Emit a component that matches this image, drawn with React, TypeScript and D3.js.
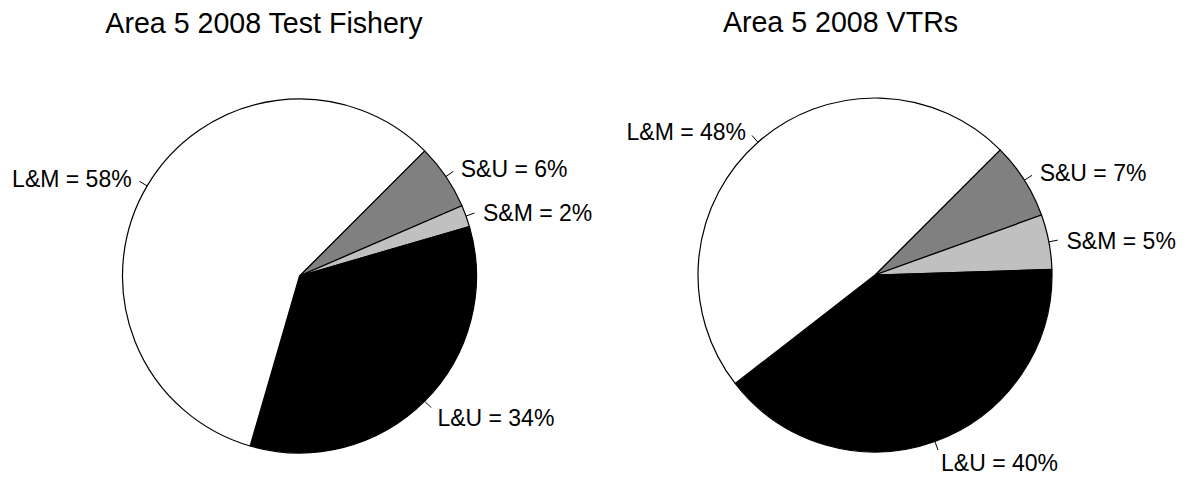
import React from "react";
import * as d3 from "d3";

const categories = ["S&U", "S&M", "L&U", "L&M"];
const testFisheryValues = [6, 2, 34, 58];
const vtrValues = [7, 5, 40, 48];
const titles = ["Area 5 2008 Test Fishery", "Area 5 2008 VTRs"];
const sliceColors = ["#808080", "#c0c0c0", "#000000", "#ffffff"];

const W = 1186;
const H = 478;
const R = 177;
const FONT = "'Liberation Sans', Arial, Helvetica, sans-serif";

type PieProps = { values: number[]; cx: number; cy: number; title: string; titleX: number; titleY: number };

function Pie({ values, cx, cy, title, titleX, titleY }: PieProps) {
  const pie = d3
    .pie<number>()
    .sort(null)
    .value((d) => d)
    .startAngle(Math.PI / 4)
    .endAngle(Math.PI / 4 + 2 * Math.PI);
  const arcs = pie(values);
  const arc = d3.arc<d3.PieArcDatum<number>>().innerRadius(0).outerRadius(R);
  return (
    <g>
      <text x={titleX} y={titleY} textAnchor="middle" fontFamily={FONT} fontSize={28.6} fill="#000">
        {title}
      </text>
      <g transform={`translate(${cx},${cy})`}>
        {arcs.map((a, i) => (
          <path key={i} d={arc(a) || ""} fill={sliceColors[i]} stroke="#000" strokeWidth={1.2} strokeLinejoin="round" />
        ))}
        {arcs.map((a, i) => {
          const mid = (a.startAngle + a.endAngle) / 2;
          const s = Math.sin(mid);
          const c = Math.cos(mid);
          const x1 = R * s;
          const y1 = -R * c;
          const x2 = (R + 9) * s;
          const y2 = -(R + 9) * c;
          const tx = x2 + 9 * s;
          const centerY = y2 + 2 - (c > 0 ? 8 : 11) * c;
          const baseline = centerY + 8.2;
          return (
            <g key={"l" + i}>
              <line x1={x1} y1={y1} x2={x2} y2={y2} stroke="#000" strokeWidth={1} />
              <text
                x={tx}
                y={baseline}
                textAnchor={s >= 0 ? "start" : "end"}
                fontFamily={FONT}
                fontSize={23}
                fill="#000"
              >
                {`${categories[i]} = ${values[i]}%`}
              </text>
            </g>
          );
        })}
      </g>
    </g>
  );
}

export default function App() {
  return (
    <svg
      width={W}
      height={H}
      viewBox={`0 0 ${W} ${H}`}
      style={{ position: "absolute", left: 0, top: 0, background: "#fff" }}
    >
      <rect width={W} height={H} fill="#fff" />
      <Pie values={testFisheryValues} cx={299.5} cy={276} title={titles[0]} titleX={264} titleY={33} />
      <Pie values={vtrValues} cx={875} cy={275} title={titles[1]} titleX={840.5} titleY={32} />
    </svg>
  );
}
